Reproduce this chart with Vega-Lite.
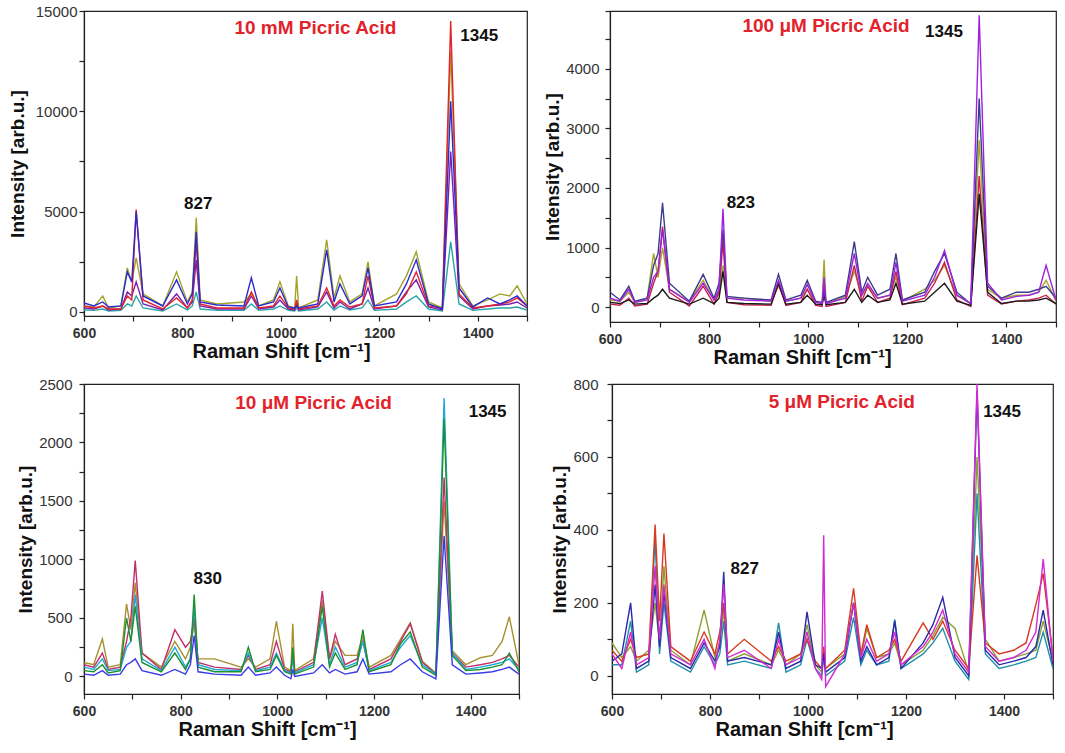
{
"$schema":"https://vega.github.io/schema/vega-lite/v6.json",
"padding":{"left":7,"top":3,"right":5,"bottom":5},
"background":"white",
"config":{
 "font":"Liberation Sans",
 "view":{"stroke":"#222","strokeWidth":1.2},
 "axis":{"domainColor":"#222","domainWidth":1.2,"tickColor":"#222","tickWidth":1.2,"tickSize":5,"labelColor":"#333","labelFont":"Liberation Sans","labelFontSize":15,"titleFont":"Liberation Sans","titleFontSize":20,"titleFontWeight":"bold","titleColor":"#111","grid":false,"labelFlush":false,"labelOverlap":false,"format":"d"},
 "axisX":{"labelFontSize":14,"labelFontWeight":"bold","labelPadding":5,"titlePadding":1,"titleX":192},
 "axisY":{"titleFontSize":19},
 "text":{"font":"Liberation Sans"}
},
"datasets":{
"ann":[
{"p":1,"k":"t","t":"10 mM Picric Acid","x":1070,"y":14150},
{"p":1,"k":"n","t":"1345","x":1403,"y":13750},
{"p":1,"k":"n","t":"827","x":832,"y":5390},
{"p":2,"k":"t","t":"100 μM Picric Acid","x":1036,"y":4720},
{"p":2,"k":"n","t":"1345","x":1274,"y":4620},
{"p":2,"k":"n","t":"823","x":864,"y":1740},
{"p":3,"k":"t","t":"10 μM Picric Acid","x":1075,"y":2338},
{"p":3,"k":"n","t":"1345","x":1435,"y":2261},
{"p":3,"k":"n","t":"830","x":856,"y":836},
{"p":4,"k":"t","t":"5 μM Picric Acid","x":1069,"y":751},
{"p":4,"k":"n","t":"1345","x":1396,"y":724},
{"p":4,"k":"n","t":"827","x":871,"y":292}
],
"p1":[
{"s":"1a","x":600,"y":100},{"s":"1a","x":620,"y":80},{"s":"1a","x":638,"y":150},{"s":"1a","x":650,"y":50},{"s":"1a","x":675,"y":80},{"s":"1a","x":688,"y":400},{"s":"1a","x":697,"y":300},{"s":"1a","x":706,"y":800},{"s":"1a","x":720,"y":200},{"s":"1a","x":760,"y":50},{"s":"1a","x":788,"y":400},{"s":"1a","x":810,"y":100},{"s":"1a","x":820,"y":300},{"s":"1a","x":828,"y":1000},{"s":"1a","x":836,"y":150},{"s":"1a","x":870,"y":80},{"s":"1a","x":925,"y":80},{"s":"1a","x":940,"y":400},{"s":"1a","x":955,"y":80},{"s":"1a","x":985,"y":150},{"s":"1a","x":998,"y":300},{"s":"1a","x":1015,"y":80},{"s":"1a","x":1028,"y":50},{"s":"1a","x":1032,"y":200},{"s":"1a","x":1036,"y":50},{"s":"1a","x":1075,"y":150},{"s":"1a","x":1093,"y":500},{"s":"1a","x":1108,"y":100},{"s":"1a","x":1120,"y":300},{"s":"1a","x":1140,"y":100},{"s":"1a","x":1165,"y":200},{"s":"1a","x":1177,"y":600},{"s":"1a","x":1190,"y":80},{"s":"1a","x":1235,"y":150},{"s":"1a","x":1255,"y":500},{"s":"1a","x":1275,"y":800},{"s":"1a","x":1300,"y":150},{"s":"1a","x":1328,"y":50},{"s":"1a","x":1345,"y":3500},{"s":"1a","x":1362,"y":400},{"s":"1a","x":1390,"y":80},{"s":"1a","x":1420,"y":150},{"s":"1a","x":1445,"y":200},{"s":"1a","x":1465,"y":200},{"s":"1a","x":1480,"y":250},{"s":"1a","x":1500,"y":100},
{"s":"1b","x":600,"y":200},{"s":"1b","x":620,"y":150},{"s":"1b","x":638,"y":300},{"s":"1b","x":650,"y":100},{"s":"1b","x":675,"y":150},{"s":"1b","x":688,"y":1000},{"s":"1b","x":697,"y":800},{"s":"1b","x":706,"y":1500},{"s":"1b","x":720,"y":400},{"s":"1b","x":760,"y":100},{"s":"1b","x":788,"y":900},{"s":"1b","x":810,"y":200},{"s":"1b","x":820,"y":500},{"s":"1b","x":828,"y":2600},{"s":"1b","x":836,"y":300},{"s":"1b","x":870,"y":150},{"s":"1b","x":925,"y":150},{"s":"1b","x":940,"y":800},{"s":"1b","x":955,"y":150},{"s":"1b","x":985,"y":250},{"s":"1b","x":998,"y":600},{"s":"1b","x":1015,"y":150},{"s":"1b","x":1028,"y":100},{"s":"1b","x":1032,"y":400},{"s":"1b","x":1036,"y":100},{"s":"1b","x":1075,"y":250},{"s":"1b","x":1093,"y":1000},{"s":"1b","x":1108,"y":200},{"s":"1b","x":1120,"y":500},{"s":"1b","x":1140,"y":150},{"s":"1b","x":1165,"y":400},{"s":"1b","x":1177,"y":1200},{"s":"1b","x":1190,"y":150},{"s":"1b","x":1235,"y":300},{"s":"1b","x":1255,"y":1000},{"s":"1b","x":1275,"y":1600},{"s":"1b","x":1300,"y":250},{"s":"1b","x":1328,"y":100},{"s":"1b","x":1345,"y":8000},{"s":"1b","x":1362,"y":800},{"s":"1b","x":1390,"y":150},{"s":"1b","x":1420,"y":300},{"s":"1b","x":1445,"y":350},{"s":"1b","x":1465,"y":400},{"s":"1b","x":1480,"y":500},{"s":"1b","x":1500,"y":200},
{"s":"1c","x":600,"y":300},{"s":"1c","x":620,"y":250},{"s":"1c","x":638,"y":800},{"s":"1c","x":650,"y":200},{"s":"1c","x":675,"y":300},{"s":"1c","x":688,"y":2200},{"s":"1c","x":697,"y":1500},{"s":"1c","x":706,"y":2700},{"s":"1c","x":720,"y":900},{"s":"1c","x":760,"y":300},{"s":"1c","x":788,"y":2000},{"s":"1c","x":810,"y":500},{"s":"1c","x":820,"y":1000},{"s":"1c","x":828,"y":4700},{"s":"1c","x":836,"y":600},{"s":"1c","x":870,"y":400},{"s":"1c","x":925,"y":500},{"s":"1c","x":940,"y":900},{"s":"1c","x":955,"y":300},{"s":"1c","x":985,"y":600},{"s":"1c","x":998,"y":1500},{"s":"1c","x":1015,"y":300},{"s":"1c","x":1028,"y":200},{"s":"1c","x":1032,"y":1800},{"s":"1c","x":1036,"y":200},{"s":"1c","x":1075,"y":600},{"s":"1c","x":1093,"y":3600},{"s":"1c","x":1108,"y":700},{"s":"1c","x":1120,"y":1800},{"s":"1c","x":1140,"y":500},{"s":"1c","x":1165,"y":900},{"s":"1c","x":1177,"y":2500},{"s":"1c","x":1190,"y":300},{"s":"1c","x":1235,"y":900},{"s":"1c","x":1255,"y":1800},{"s":"1c","x":1275,"y":3000},{"s":"1c","x":1300,"y":500},{"s":"1c","x":1328,"y":200},{"s":"1c","x":1345,"y":13000},{"s":"1c","x":1362,"y":1400},{"s":"1c","x":1390,"y":300},{"s":"1c","x":1420,"y":600},{"s":"1c","x":1445,"y":900},{"s":"1c","x":1465,"y":800},{"s":"1c","x":1480,"y":1300},{"s":"1c","x":1500,"y":400},
{"s":"1d","x":600,"y":300},{"s":"1d","x":620,"y":200},{"s":"1d","x":638,"y":300},{"s":"1d","x":650,"y":150},{"s":"1d","x":675,"y":150},{"s":"1d","x":688,"y":800},{"s":"1d","x":697,"y":600},{"s":"1d","x":706,"y":5100},{"s":"1d","x":720,"y":600},{"s":"1d","x":760,"y":150},{"s":"1d","x":788,"y":700},{"s":"1d","x":810,"y":200},{"s":"1d","x":820,"y":600},{"s":"1d","x":828,"y":3500},{"s":"1d","x":836,"y":400},{"s":"1d","x":870,"y":200},{"s":"1d","x":925,"y":200},{"s":"1d","x":940,"y":1000},{"s":"1d","x":955,"y":200},{"s":"1d","x":985,"y":300},{"s":"1d","x":998,"y":800},{"s":"1d","x":1015,"y":200},{"s":"1d","x":1028,"y":150},{"s":"1d","x":1032,"y":600},{"s":"1d","x":1036,"y":150},{"s":"1d","x":1075,"y":300},{"s":"1d","x":1093,"y":1200},{"s":"1d","x":1108,"y":300},{"s":"1d","x":1120,"y":600},{"s":"1d","x":1140,"y":250},{"s":"1d","x":1165,"y":400},{"s":"1d","x":1177,"y":1800},{"s":"1d","x":1190,"y":200},{"s":"1d","x":1235,"y":300},{"s":"1d","x":1255,"y":900},{"s":"1d","x":1275,"y":2000},{"s":"1d","x":1300,"y":300},{"s":"1d","x":1328,"y":200},{"s":"1d","x":1345,"y":14500},{"s":"1d","x":1362,"y":900},{"s":"1d","x":1390,"y":200},{"s":"1d","x":1420,"y":300},{"s":"1d","x":1445,"y":400},{"s":"1d","x":1465,"y":500},{"s":"1d","x":1480,"y":700},{"s":"1d","x":1500,"y":300},
{"s":"1e","x":600,"y":450},{"s":"1e","x":620,"y":300},{"s":"1e","x":638,"y":500},{"s":"1e","x":650,"y":250},{"s":"1e","x":675,"y":300},{"s":"1e","x":688,"y":2000},{"s":"1e","x":697,"y":1500},{"s":"1e","x":706,"y":5000},{"s":"1e","x":720,"y":800},{"s":"1e","x":760,"y":300},{"s":"1e","x":788,"y":1600},{"s":"1e","x":810,"y":400},{"s":"1e","x":820,"y":900},{"s":"1e","x":828,"y":4000},{"s":"1e","x":836,"y":500},{"s":"1e","x":870,"y":350},{"s":"1e","x":925,"y":300},{"s":"1e","x":940,"y":1700},{"s":"1e","x":955,"y":300},{"s":"1e","x":985,"y":500},{"s":"1e","x":998,"y":1200},{"s":"1e","x":1015,"y":250},{"s":"1e","x":1028,"y":200},{"s":"1e","x":1032,"y":300},{"s":"1e","x":1036,"y":200},{"s":"1e","x":1075,"y":400},{"s":"1e","x":1093,"y":3100},{"s":"1e","x":1108,"y":500},{"s":"1e","x":1120,"y":1400},{"s":"1e","x":1140,"y":400},{"s":"1e","x":1165,"y":800},{"s":"1e","x":1177,"y":2200},{"s":"1e","x":1190,"y":300},{"s":"1e","x":1235,"y":500},{"s":"1e","x":1255,"y":1400},{"s":"1e","x":1275,"y":2600},{"s":"1e","x":1300,"y":400},{"s":"1e","x":1328,"y":150},{"s":"1e","x":1345,"y":10500},{"s":"1e","x":1362,"y":1200},{"s":"1e","x":1390,"y":250},{"s":"1e","x":1420,"y":700},{"s":"1e","x":1445,"y":400},{"s":"1e","x":1465,"y":600},{"s":"1e","x":1480,"y":800},{"s":"1e","x":1500,"y":300}
],
"p2":[
{"s":"2a","x":600,"y":120},{"s":"2a","x":620,"y":100},{"s":"2a","x":638,"y":250},{"s":"2a","x":650,"y":80},{"s":"2a","x":675,"y":150},{"s":"2a","x":688,"y":900},{"s":"2a","x":697,"y":500},{"s":"2a","x":706,"y":1000},{"s":"2a","x":720,"y":300},{"s":"2a","x":760,"y":100},{"s":"2a","x":788,"y":450},{"s":"2a","x":810,"y":120},{"s":"2a","x":820,"y":250},{"s":"2a","x":828,"y":700},{"s":"2a","x":836,"y":150},{"s":"2a","x":870,"y":150},{"s":"2a","x":925,"y":100},{"s":"2a","x":940,"y":350},{"s":"2a","x":955,"y":100},{"s":"2a","x":985,"y":150},{"s":"2a","x":998,"y":300},{"s":"2a","x":1015,"y":80},{"s":"2a","x":1028,"y":60},{"s":"2a","x":1032,"y":800},{"s":"2a","x":1036,"y":60},{"s":"2a","x":1075,"y":180},{"s":"2a","x":1093,"y":600},{"s":"2a","x":1108,"y":200},{"s":"2a","x":1120,"y":350},{"s":"2a","x":1140,"y":150},{"s":"2a","x":1165,"y":200},{"s":"2a","x":1177,"y":500},{"s":"2a","x":1190,"y":100},{"s":"2a","x":1235,"y":300},{"s":"2a","x":1255,"y":450},{"s":"2a","x":1275,"y":700},{"s":"2a","x":1300,"y":200},{"s":"2a","x":1328,"y":60},{"s":"2a","x":1345,"y":2800},{"s":"2a","x":1362,"y":300},{"s":"2a","x":1390,"y":150},{"s":"2a","x":1420,"y":200},{"s":"2a","x":1445,"y":200},{"s":"2a","x":1465,"y":250},{"s":"2a","x":1480,"y":450},{"s":"2a","x":1500,"y":100},
{"s":"2b","x":600,"y":50},{"s":"2b","x":620,"y":30},{"s":"2b","x":638,"y":150},{"s":"2b","x":650,"y":20},{"s":"2b","x":675,"y":50},{"s":"2b","x":688,"y":400},{"s":"2b","x":697,"y":600},{"s":"2b","x":706,"y":1350},{"s":"2b","x":720,"y":250},{"s":"2b","x":760,"y":20},{"s":"2b","x":788,"y":350},{"s":"2b","x":810,"y":50},{"s":"2b","x":820,"y":250},{"s":"2b","x":828,"y":1100},{"s":"2b","x":836,"y":80},{"s":"2b","x":870,"y":40},{"s":"2b","x":925,"y":30},{"s":"2b","x":940,"y":400},{"s":"2b","x":955,"y":30},{"s":"2b","x":985,"y":80},{"s":"2b","x":998,"y":300},{"s":"2b","x":1015,"y":30},{"s":"2b","x":1028,"y":10},{"s":"2b","x":1032,"y":400},{"s":"2b","x":1036,"y":10},{"s":"2b","x":1075,"y":80},{"s":"2b","x":1093,"y":700},{"s":"2b","x":1108,"y":100},{"s":"2b","x":1120,"y":350},{"s":"2b","x":1140,"y":80},{"s":"2b","x":1165,"y":150},{"s":"2b","x":1177,"y":600},{"s":"2b","x":1190,"y":40},{"s":"2b","x":1235,"y":150},{"s":"2b","x":1255,"y":400},{"s":"2b","x":1275,"y":750},{"s":"2b","x":1300,"y":120},{"s":"2b","x":1328,"y":10},{"s":"2b","x":1345,"y":2200},{"s":"2b","x":1362,"y":200},{"s":"2b","x":1390,"y":50},{"s":"2b","x":1420,"y":100},{"s":"2b","x":1445,"y":120},{"s":"2b","x":1465,"y":150},{"s":"2b","x":1480,"y":200},{"s":"2b","x":1500,"y":50},
{"s":"2c","x":600,"y":80},{"s":"2c","x":620,"y":60},{"s":"2c","x":638,"y":120},{"s":"2c","x":650,"y":50},{"s":"2c","x":675,"y":60},{"s":"2c","x":688,"y":150},{"s":"2c","x":697,"y":200},{"s":"2c","x":706,"y":300},{"s":"2c","x":720,"y":150},{"s":"2c","x":760,"y":50},{"s":"2c","x":788,"y":150},{"s":"2c","x":810,"y":60},{"s":"2c","x":820,"y":150},{"s":"2c","x":828,"y":600},{"s":"2c","x":836,"y":80},{"s":"2c","x":870,"y":60},{"s":"2c","x":925,"y":50},{"s":"2c","x":940,"y":400},{"s":"2c","x":955,"y":50},{"s":"2c","x":985,"y":80},{"s":"2c","x":998,"y":200},{"s":"2c","x":1015,"y":50},{"s":"2c","x":1028,"y":40},{"s":"2c","x":1032,"y":200},{"s":"2c","x":1036,"y":40},{"s":"2c","x":1075,"y":80},{"s":"2c","x":1093,"y":300},{"s":"2c","x":1108,"y":80},{"s":"2c","x":1120,"y":200},{"s":"2c","x":1140,"y":80},{"s":"2c","x":1165,"y":120},{"s":"2c","x":1177,"y":400},{"s":"2c","x":1190,"y":50},{"s":"2c","x":1235,"y":100},{"s":"2c","x":1255,"y":250},{"s":"2c","x":1275,"y":400},{"s":"2c","x":1300,"y":100},{"s":"2c","x":1328,"y":30},{"s":"2c","x":1345,"y":1900},{"s":"2c","x":1362,"y":250},{"s":"2c","x":1390,"y":60},{"s":"2c","x":1420,"y":100},{"s":"2c","x":1445,"y":100},{"s":"2c","x":1465,"y":120},{"s":"2c","x":1480,"y":150},{"s":"2c","x":1500,"y":60},
{"s":"2d","x":600,"y":250},{"s":"2d","x":620,"y":120},{"s":"2d","x":638,"y":350},{"s":"2d","x":650,"y":100},{"s":"2d","x":675,"y":150},{"s":"2d","x":688,"y":700},{"s":"2d","x":697,"y":900},{"s":"2d","x":706,"y":1750},{"s":"2d","x":720,"y":400},{"s":"2d","x":760,"y":100},{"s":"2d","x":788,"y":550},{"s":"2d","x":810,"y":150},{"s":"2d","x":820,"y":400},{"s":"2d","x":828,"y":1300},{"s":"2d","x":836,"y":180},{"s":"2d","x":870,"y":150},{"s":"2d","x":925,"y":120},{"s":"2d","x":940,"y":550},{"s":"2d","x":955,"y":120},{"s":"2d","x":985,"y":200},{"s":"2d","x":998,"y":450},{"s":"2d","x":1015,"y":100},{"s":"2d","x":1028,"y":80},{"s":"2d","x":1032,"y":300},{"s":"2d","x":1036,"y":80},{"s":"2d","x":1075,"y":200},{"s":"2d","x":1093,"y":1100},{"s":"2d","x":1108,"y":250},{"s":"2d","x":1120,"y":500},{"s":"2d","x":1140,"y":200},{"s":"2d","x":1165,"y":300},{"s":"2d","x":1177,"y":900},{"s":"2d","x":1190,"y":120},{"s":"2d","x":1235,"y":250},{"s":"2d","x":1255,"y":600},{"s":"2d","x":1275,"y":900},{"s":"2d","x":1300,"y":250},{"s":"2d","x":1328,"y":50},{"s":"2d","x":1345,"y":3500},{"s":"2d","x":1362,"y":350},{"s":"2d","x":1390,"y":150},{"s":"2d","x":1420,"y":250},{"s":"2d","x":1445,"y":250},{"s":"2d","x":1465,"y":300},{"s":"2d","x":1480,"y":350},{"s":"2d","x":1500,"y":150},
{"s":"2e","x":600,"y":150},{"s":"2e","x":620,"y":100},{"s":"2e","x":638,"y":300},{"s":"2e","x":650,"y":80},{"s":"2e","x":675,"y":120},{"s":"2e","x":688,"y":500},{"s":"2e","x":697,"y":600},{"s":"2e","x":706,"y":1300},{"s":"2e","x":720,"y":300},{"s":"2e","x":760,"y":80},{"s":"2e","x":788,"y":400},{"s":"2e","x":810,"y":120},{"s":"2e","x":820,"y":300},{"s":"2e","x":828,"y":1650},{"s":"2e","x":836,"y":150},{"s":"2e","x":870,"y":120},{"s":"2e","x":925,"y":100},{"s":"2e","x":940,"y":450},{"s":"2e","x":955,"y":100},{"s":"2e","x":985,"y":150},{"s":"2e","x":998,"y":380},{"s":"2e","x":1015,"y":80},{"s":"2e","x":1028,"y":60},{"s":"2e","x":1032,"y":500},{"s":"2e","x":1036,"y":60},{"s":"2e","x":1075,"y":150},{"s":"2e","x":1093,"y":900},{"s":"2e","x":1108,"y":200},{"s":"2e","x":1120,"y":400},{"s":"2e","x":1140,"y":150},{"s":"2e","x":1165,"y":200},{"s":"2e","x":1177,"y":750},{"s":"2e","x":1190,"y":100},{"s":"2e","x":1235,"y":200},{"s":"2e","x":1255,"y":500},{"s":"2e","x":1275,"y":950},{"s":"2e","x":1300,"y":200},{"s":"2e","x":1328,"y":60},{"s":"2e","x":1345,"y":4900},{"s":"2e","x":1362,"y":400},{"s":"2e","x":1390,"y":120},{"s":"2e","x":1420,"y":180},{"s":"2e","x":1445,"y":200},{"s":"2e","x":1465,"y":250},{"s":"2e","x":1480,"y":700},{"s":"2e","x":1500,"y":120}
],
"p3":[
{"s":"3a","x":600,"y":120},{"s":"3a","x":620,"y":100},{"s":"3a","x":638,"y":320},{"s":"3a","x":650,"y":80},{"s":"3a","x":675,"y":100},{"s":"3a","x":688,"y":620},{"s":"3a","x":697,"y":400},{"s":"3a","x":706,"y":800},{"s":"3a","x":720,"y":200},{"s":"3a","x":760,"y":80},{"s":"3a","x":788,"y":300},{"s":"3a","x":810,"y":150},{"s":"3a","x":820,"y":250},{"s":"3a","x":828,"y":450},{"s":"3a","x":836,"y":150},{"s":"3a","x":870,"y":150},{"s":"3a","x":925,"y":80},{"s":"3a","x":940,"y":150},{"s":"3a","x":955,"y":80},{"s":"3a","x":985,"y":150},{"s":"3a","x":998,"y":470},{"s":"3a","x":1015,"y":80},{"s":"3a","x":1028,"y":50},{"s":"3a","x":1032,"y":450},{"s":"3a","x":1036,"y":50},{"s":"3a","x":1075,"y":150},{"s":"3a","x":1093,"y":650},{"s":"3a","x":1108,"y":150},{"s":"3a","x":1120,"y":300},{"s":"3a","x":1140,"y":180},{"s":"3a","x":1165,"y":180},{"s":"3a","x":1177,"y":350},{"s":"3a","x":1190,"y":80},{"s":"3a","x":1235,"y":180},{"s":"3a","x":1255,"y":320},{"s":"3a","x":1275,"y":460},{"s":"3a","x":1300,"y":130},{"s":"3a","x":1328,"y":30},{"s":"3a","x":1345,"y":1500},{"s":"3a","x":1362,"y":220},{"s":"3a","x":1390,"y":100},{"s":"3a","x":1420,"y":160},{"s":"3a","x":1445,"y":180},{"s":"3a","x":1465,"y":300},{"s":"3a","x":1480,"y":510},{"s":"3a","x":1500,"y":100},
{"s":"3b","x":600,"y":100},{"s":"3b","x":620,"y":80},{"s":"3b","x":638,"y":200},{"s":"3b","x":650,"y":60},{"s":"3b","x":675,"y":80},{"s":"3b","x":688,"y":300},{"s":"3b","x":697,"y":500},{"s":"3b","x":706,"y":990},{"s":"3b","x":720,"y":200},{"s":"3b","x":760,"y":60},{"s":"3b","x":788,"y":400},{"s":"3b","x":810,"y":250},{"s":"3b","x":820,"y":300},{"s":"3b","x":828,"y":500},{"s":"3b","x":836,"y":120},{"s":"3b","x":870,"y":80},{"s":"3b","x":925,"y":60},{"s":"3b","x":940,"y":180},{"s":"3b","x":955,"y":60},{"s":"3b","x":985,"y":100},{"s":"3b","x":998,"y":300},{"s":"3b","x":1015,"y":60},{"s":"3b","x":1028,"y":40},{"s":"3b","x":1032,"y":200},{"s":"3b","x":1036,"y":40},{"s":"3b","x":1075,"y":120},{"s":"3b","x":1093,"y":730},{"s":"3b","x":1108,"y":150},{"s":"3b","x":1120,"y":360},{"s":"3b","x":1140,"y":100},{"s":"3b","x":1165,"y":150},{"s":"3b","x":1177,"y":300},{"s":"3b","x":1190,"y":60},{"s":"3b","x":1235,"y":150},{"s":"3b","x":1255,"y":300},{"s":"3b","x":1275,"y":450},{"s":"3b","x":1300,"y":120},{"s":"3b","x":1328,"y":20},{"s":"3b","x":1345,"y":1700},{"s":"3b","x":1362,"y":200},{"s":"3b","x":1390,"y":80},{"s":"3b","x":1420,"y":100},{"s":"3b","x":1445,"y":120},{"s":"3b","x":1465,"y":150},{"s":"3b","x":1480,"y":180},{"s":"3b","x":1500,"y":80},
{"s":"3c","x":600,"y":80},{"s":"3c","x":620,"y":60},{"s":"3c","x":638,"y":150},{"s":"3c","x":650,"y":50},{"s":"3c","x":675,"y":60},{"s":"3c","x":688,"y":250},{"s":"3c","x":697,"y":300},{"s":"3c","x":706,"y":700},{"s":"3c","x":720,"y":150},{"s":"3c","x":760,"y":50},{"s":"3c","x":788,"y":250},{"s":"3c","x":810,"y":80},{"s":"3c","x":820,"y":150},{"s":"3c","x":828,"y":600},{"s":"3c","x":836,"y":100},{"s":"3c","x":870,"y":60},{"s":"3c","x":925,"y":50},{"s":"3c","x":940,"y":200},{"s":"3c","x":955,"y":50},{"s":"3c","x":985,"y":80},{"s":"3c","x":998,"y":200},{"s":"3c","x":1015,"y":50},{"s":"3c","x":1028,"y":30},{"s":"3c","x":1032,"y":150},{"s":"3c","x":1036,"y":30},{"s":"3c","x":1075,"y":100},{"s":"3c","x":1093,"y":500},{"s":"3c","x":1108,"y":100},{"s":"3c","x":1120,"y":250},{"s":"3c","x":1140,"y":80},{"s":"3c","x":1165,"y":120},{"s":"3c","x":1177,"y":300},{"s":"3c","x":1190,"y":50},{"s":"3c","x":1235,"y":120},{"s":"3c","x":1255,"y":250},{"s":"3c","x":1275,"y":350},{"s":"3c","x":1300,"y":100},{"s":"3c","x":1328,"y":20},{"s":"3c","x":1345,"y":2380},{"s":"3c","x":1362,"y":200},{"s":"3c","x":1390,"y":60},{"s":"3c","x":1420,"y":80},{"s":"3c","x":1445,"y":100},{"s":"3c","x":1465,"y":120},{"s":"3c","x":1480,"y":150},{"s":"3c","x":1500,"y":60},
{"s":"3d","x":600,"y":50},{"s":"3d","x":620,"y":40},{"s":"3d","x":638,"y":100},{"s":"3d","x":650,"y":30},{"s":"3d","x":675,"y":50},{"s":"3d","x":688,"y":500},{"s":"3d","x":697,"y":300},{"s":"3d","x":706,"y":600},{"s":"3d","x":720,"y":120},{"s":"3d","x":760,"y":40},{"s":"3d","x":788,"y":200},{"s":"3d","x":810,"y":60},{"s":"3d","x":820,"y":150},{"s":"3d","x":828,"y":700},{"s":"3d","x":836,"y":80},{"s":"3d","x":870,"y":40},{"s":"3d","x":925,"y":40},{"s":"3d","x":940,"y":250},{"s":"3d","x":955,"y":40},{"s":"3d","x":985,"y":60},{"s":"3d","x":998,"y":180},{"s":"3d","x":1015,"y":40},{"s":"3d","x":1028,"y":20},{"s":"3d","x":1032,"y":250},{"s":"3d","x":1036,"y":20},{"s":"3d","x":1075,"y":80},{"s":"3d","x":1093,"y":600},{"s":"3d","x":1108,"y":80},{"s":"3d","x":1120,"y":200},{"s":"3d","x":1140,"y":60},{"s":"3d","x":1165,"y":100},{"s":"3d","x":1177,"y":400},{"s":"3d","x":1190,"y":40},{"s":"3d","x":1235,"y":100},{"s":"3d","x":1255,"y":280},{"s":"3d","x":1275,"y":380},{"s":"3d","x":1300,"y":80},{"s":"3d","x":1328,"y":10},{"s":"3d","x":1345,"y":2200},{"s":"3d","x":1362,"y":180},{"s":"3d","x":1390,"y":50},{"s":"3d","x":1420,"y":60},{"s":"3d","x":1445,"y":80},{"s":"3d","x":1465,"y":100},{"s":"3d","x":1480,"y":200},{"s":"3d","x":1500,"y":40},
{"s":"3e","x":600,"y":20},{"s":"3e","x":620,"y":10},{"s":"3e","x":638,"y":50},{"s":"3e","x":650,"y":10},{"s":"3e","x":675,"y":20},{"s":"3e","x":688,"y":100},{"s":"3e","x":697,"y":120},{"s":"3e","x":706,"y":150},{"s":"3e","x":720,"y":50},{"s":"3e","x":760,"y":10},{"s":"3e","x":788,"y":60},{"s":"3e","x":810,"y":20},{"s":"3e","x":820,"y":100},{"s":"3e","x":828,"y":350},{"s":"3e","x":836,"y":40},{"s":"3e","x":870,"y":20},{"s":"3e","x":925,"y":10},{"s":"3e","x":940,"y":80},{"s":"3e","x":955,"y":10},{"s":"3e","x":985,"y":30},{"s":"3e","x":998,"y":80},{"s":"3e","x":1015,"y":10},{"s":"3e","x":1028,"y":-20},{"s":"3e","x":1032,"y":60},{"s":"3e","x":1036,"y":0},{"s":"3e","x":1075,"y":30},{"s":"3e","x":1093,"y":100},{"s":"3e","x":1108,"y":30},{"s":"3e","x":1120,"y":60},{"s":"3e","x":1140,"y":20},{"s":"3e","x":1165,"y":40},{"s":"3e","x":1177,"y":150},{"s":"3e","x":1190,"y":20},{"s":"3e","x":1235,"y":40},{"s":"3e","x":1255,"y":100},{"s":"3e","x":1275,"y":150},{"s":"3e","x":1300,"y":40},{"s":"3e","x":1328,"y":-20},{"s":"3e","x":1345,"y":1200},{"s":"3e","x":1362,"y":100},{"s":"3e","x":1390,"y":20},{"s":"3e","x":1420,"y":30},{"s":"3e","x":1445,"y":40},{"s":"3e","x":1465,"y":60},{"s":"3e","x":1480,"y":80},{"s":"3e","x":1500,"y":20}
],
"p4":[
{"s":"4a","x":600,"y":90},{"s":"4a","x":620,"y":50},{"s":"4a","x":638,"y":80},{"s":"4a","x":650,"y":40},{"s":"4a","x":675,"y":70},{"s":"4a","x":688,"y":200},{"s":"4a","x":697,"y":90},{"s":"4a","x":706,"y":300},{"s":"4a","x":720,"y":70},{"s":"4a","x":760,"y":30},{"s":"4a","x":788,"y":180},{"s":"4a","x":810,"y":50},{"s":"4a","x":820,"y":90},{"s":"4a","x":828,"y":180},{"s":"4a","x":836,"y":40},{"s":"4a","x":870,"y":60},{"s":"4a","x":925,"y":30},{"s":"4a","x":940,"y":70},{"s":"4a","x":955,"y":30},{"s":"4a","x":985,"y":60},{"s":"4a","x":998,"y":140},{"s":"4a","x":1015,"y":30},{"s":"4a","x":1028,"y":10},{"s":"4a","x":1032,"y":70},{"s":"4a","x":1036,"y":20},{"s":"4a","x":1075,"y":60},{"s":"4a","x":1093,"y":200},{"s":"4a","x":1108,"y":50},{"s":"4a","x":1120,"y":130},{"s":"4a","x":1140,"y":50},{"s":"4a","x":1165,"y":60},{"s":"4a","x":1177,"y":90},{"s":"4a","x":1190,"y":30},{"s":"4a","x":1235,"y":70},{"s":"4a","x":1255,"y":110},{"s":"4a","x":1275,"y":160},{"s":"4a","x":1300,"y":130},{"s":"4a","x":1328,"y":10},{"s":"4a","x":1345,"y":600},{"s":"4a","x":1362,"y":100},{"s":"4a","x":1390,"y":40},{"s":"4a","x":1420,"y":50},{"s":"4a","x":1445,"y":60},{"s":"4a","x":1465,"y":70},{"s":"4a","x":1480,"y":150},{"s":"4a","x":1500,"y":40},
{"s":"4b","x":600,"y":30},{"s":"4b","x":620,"y":30},{"s":"4b","x":638,"y":150},{"s":"4b","x":650,"y":10},{"s":"4b","x":675,"y":30},{"s":"4b","x":688,"y":380},{"s":"4b","x":697,"y":60},{"s":"4b","x":706,"y":200},{"s":"4b","x":720,"y":40},{"s":"4b","x":760,"y":10},{"s":"4b","x":788,"y":80},{"s":"4b","x":810,"y":30},{"s":"4b","x":820,"y":60},{"s":"4b","x":828,"y":150},{"s":"4b","x":836,"y":30},{"s":"4b","x":870,"y":40},{"s":"4b","x":925,"y":20},{"s":"4b","x":940,"y":145},{"s":"4b","x":955,"y":10},{"s":"4b","x":985,"y":30},{"s":"4b","x":998,"y":100},{"s":"4b","x":1015,"y":20},{"s":"4b","x":1028,"y":0},{"s":"4b","x":1032,"y":50},{"s":"4b","x":1036,"y":0},{"s":"4b","x":1075,"y":40},{"s":"4b","x":1093,"y":160},{"s":"4b","x":1108,"y":30},{"s":"4b","x":1120,"y":70},{"s":"4b","x":1140,"y":30},{"s":"4b","x":1165,"y":40},{"s":"4b","x":1177,"y":155},{"s":"4b","x":1190,"y":20},{"s":"4b","x":1235,"y":60},{"s":"4b","x":1255,"y":90},{"s":"4b","x":1275,"y":130},{"s":"4b","x":1300,"y":40},{"s":"4b","x":1328,"y":-10},{"s":"4b","x":1345,"y":500},{"s":"4b","x":1362,"y":60},{"s":"4b","x":1390,"y":20},{"s":"4b","x":1420,"y":30},{"s":"4b","x":1445,"y":40},{"s":"4b","x":1465,"y":50},{"s":"4b","x":1480,"y":120},{"s":"4b","x":1500,"y":20},
{"s":"4c","x":600,"y":70},{"s":"4c","x":620,"y":40},{"s":"4c","x":638,"y":100},{"s":"4c","x":650,"y":50},{"s":"4c","x":675,"y":60},{"s":"4c","x":688,"y":415},{"s":"4c","x":697,"y":150},{"s":"4c","x":706,"y":390},{"s":"4c","x":720,"y":80},{"s":"4c","x":760,"y":40},{"s":"4c","x":788,"y":120},{"s":"4c","x":810,"y":60},{"s":"4c","x":820,"y":120},{"s":"4c","x":828,"y":200},{"s":"4c","x":836,"y":60},{"s":"4c","x":870,"y":100},{"s":"4c","x":925,"y":40},{"s":"4c","x":940,"y":80},{"s":"4c","x":955,"y":40},{"s":"4c","x":985,"y":60},{"s":"4c","x":998,"y":100},{"s":"4c","x":1015,"y":40},{"s":"4c","x":1028,"y":20},{"s":"4c","x":1032,"y":80},{"s":"4c","x":1036,"y":20},{"s":"4c","x":1075,"y":70},{"s":"4c","x":1093,"y":240},{"s":"4c","x":1108,"y":60},{"s":"4c","x":1120,"y":140},{"s":"4c","x":1140,"y":50},{"s":"4c","x":1165,"y":70},{"s":"4c","x":1177,"y":100},{"s":"4c","x":1190,"y":40},{"s":"4c","x":1235,"y":145},{"s":"4c","x":1255,"y":100},{"s":"4c","x":1275,"y":150},{"s":"4c","x":1300,"y":70},{"s":"4c","x":1328,"y":20},{"s":"4c","x":1345,"y":330},{"s":"4c","x":1362,"y":90},{"s":"4c","x":1390,"y":60},{"s":"4c","x":1420,"y":70},{"s":"4c","x":1445,"y":90},{"s":"4c","x":1465,"y":195},{"s":"4c","x":1480,"y":280},{"s":"4c","x":1500,"y":50},
{"s":"4d","x":600,"y":40},{"s":"4d","x":620,"y":60},{"s":"4d","x":638,"y":200},{"s":"4d","x":650,"y":20},{"s":"4d","x":675,"y":40},{"s":"4d","x":688,"y":250},{"s":"4d","x":697,"y":80},{"s":"4d","x":706,"y":230},{"s":"4d","x":720,"y":50},{"s":"4d","x":760,"y":20},{"s":"4d","x":788,"y":90},{"s":"4d","x":810,"y":40},{"s":"4d","x":820,"y":80},{"s":"4d","x":828,"y":285},{"s":"4d","x":836,"y":40},{"s":"4d","x":870,"y":50},{"s":"4d","x":925,"y":30},{"s":"4d","x":940,"y":120},{"s":"4d","x":955,"y":20},{"s":"4d","x":985,"y":40},{"s":"4d","x":998,"y":175},{"s":"4d","x":1015,"y":30},{"s":"4d","x":1028,"y":20},{"s":"4d","x":1032,"y":60},{"s":"4d","x":1036,"y":10},{"s":"4d","x":1075,"y":50},{"s":"4d","x":1093,"y":200},{"s":"4d","x":1108,"y":40},{"s":"4d","x":1120,"y":80},{"s":"4d","x":1140,"y":30},{"s":"4d","x":1165,"y":50},{"s":"4d","x":1177,"y":150},{"s":"4d","x":1190,"y":20},{"s":"4d","x":1235,"y":90},{"s":"4d","x":1255,"y":140},{"s":"4d","x":1275,"y":215},{"s":"4d","x":1300,"y":50},{"s":"4d","x":1328,"y":0},{"s":"4d","x":1345,"y":780},{"s":"4d","x":1362,"y":70},{"s":"4d","x":1390,"y":30},{"s":"4d","x":1420,"y":40},{"s":"4d","x":1445,"y":50},{"s":"4d","x":1465,"y":80},{"s":"4d","x":1480,"y":180},{"s":"4d","x":1500,"y":30},
{"s":"4e","x":600,"y":60},{"s":"4e","x":620,"y":20},{"s":"4e","x":638,"y":120},{"s":"4e","x":650,"y":30},{"s":"4e","x":675,"y":50},{"s":"4e","x":688,"y":300},{"s":"4e","x":697,"y":100},{"s":"4e","x":706,"y":250},{"s":"4e","x":720,"y":60},{"s":"4e","x":760,"y":30},{"s":"4e","x":788,"y":100},{"s":"4e","x":810,"y":20},{"s":"4e","x":820,"y":100},{"s":"4e","x":828,"y":250},{"s":"4e","x":836,"y":50},{"s":"4e","x":870,"y":70},{"s":"4e","x":925,"y":20},{"s":"4e","x":940,"y":100},{"s":"4e","x":955,"y":30},{"s":"4e","x":985,"y":50},{"s":"4e","x":998,"y":120},{"s":"4e","x":1015,"y":20},{"s":"4e","x":1028,"y":-10},{"s":"4e","x":1032,"y":385},{"s":"4e","x":1036,"y":-30},{"s":"4e","x":1075,"y":60},{"s":"4e","x":1093,"y":200},{"s":"4e","x":1108,"y":50},{"s":"4e","x":1120,"y":100},{"s":"4e","x":1140,"y":40},{"s":"4e","x":1165,"y":60},{"s":"4e","x":1177,"y":120},{"s":"4e","x":1190,"y":30},{"s":"4e","x":1235,"y":80},{"s":"4e","x":1255,"y":120},{"s":"4e","x":1275,"y":180},{"s":"4e","x":1300,"y":60},{"s":"4e","x":1328,"y":10},{"s":"4e","x":1345,"y":800},{"s":"4e","x":1362,"y":80},{"s":"4e","x":1390,"y":40},{"s":"4e","x":1420,"y":50},{"s":"4e","x":1445,"y":70},{"s":"4e","x":1465,"y":120},{"s":"4e","x":1480,"y":320},{"s":"4e","x":1500,"y":40}
]
},
"vconcat":[
{"hconcat":[
{"width":443,"height":305,
 "encoding":{
  "x":{"field":"x","type":"quantitative","scale":{"domain":[600,1500],"nice":false,"zero":false},"axis":{"values":[600,700,800,900,1000,1100,1200,1300,1400,1500],"labelExpr":"datum.value % 200 == 0 ? datum.label : ''","title":"Raman Shift [cm⁻¹]","titleX":197}},
  "y":{"field":"y","type":"quantitative","scale":{"domain":[-200,15000],"nice":false,"zero":false},"axis":{"values":[0,2500,5000,7500,10000,12500,15000],"labelExpr":"datum.value % 5000 == 0 ? datum.label : ''","title":"Intensity [arb.u.]","titlePadding":8,"labelPadding":2}}
 },
 "layer":[
  {"data":{"name":"p1"},"mark":{"type":"line","strokeWidth":1.4,"clip":true},"encoding":{"color":{"field":"s","type":"nominal","legend":null,"scale":{"domain":["1a","1b","1c","1d","1e","2a","2b","2c","2d","2e","3a","3b","3c","3d","3e","4a","4b","4c","4d","4e"],"range":["#2aa5a5","#7b1fb0","#a3a32a","#e3232b","#2b2bd0","#a5a530","#c8204a","#1a1a1a","#3c3c8c","#a020e0","#a89030","#c0306a","#20a8d8","#1c9030","#3a3ae8","#8aa030","#2090a8","#d83a20","#2a2aa8","#d22ad2"]}}}},
  {"data":{"name":"ann"},"transform":[{"filter":"datum.p==1 && datum.k=='t'"}],"mark":{"type":"text","color":"#e3232b","fontSize":19,"fontWeight":"bold"},"encoding":{"text":{"field":"t"}}},
  {"data":{"name":"ann"},"transform":[{"filter":"datum.p==1 && datum.k=='n'"}],"mark":{"type":"text","color":"#111","fontSize":17,"fontWeight":"bold"},"encoding":{"text":{"field":"t"}}}
 ]},
{"width":446,"height":311,
 "encoding":{
  "x":{"field":"x","type":"quantitative","scale":{"domain":[600,1500],"nice":false,"zero":false},"axis":{"values":[600,700,800,900,1000,1100,1200,1300,1400,1500],"labelExpr":"datum.value % 200 == 0 ? datum.label : ''","title":"Raman Shift [cm⁻¹]"}},
  "y":{"field":"y","type":"quantitative","scale":{"domain":[-250,4970],"nice":false,"zero":false},"axis":{"values":[0,500,1000,1500,2000,2500,3000,3500,4000,4500,4970],"labelExpr":"datum.value % 1000 == 0 ? datum.label : ' '","title":"Intensity [arb.u.]","titlePadding":3,"labelPadding":6}}
 },
 "layer":[
  {"data":{"name":"p2"},"mark":{"type":"line","strokeWidth":1.4,"clip":true},"encoding":{"color":{"field":"s","type":"nominal","legend":null,"scale":{"domain":["1a","1b","1c","1d","1e","2a","2b","2c","2d","2e","3a","3b","3c","3d","3e","4a","4b","4c","4d","4e"],"range":["#2aa5a5","#7b1fb0","#a3a32a","#e3232b","#2b2bd0","#a5a530","#c8204a","#1a1a1a","#3c3c8c","#a020e0","#a89030","#c0306a","#20a8d8","#1c9030","#3a3ae8","#8aa030","#2090a8","#d83a20","#2a2aa8","#d22ad2"]}}}},
  {"data":{"name":"ann"},"transform":[{"filter":"datum.p==2 && datum.k=='t'"}],"mark":{"type":"text","color":"#e3232b","fontSize":19,"fontWeight":"bold"},"encoding":{"text":{"field":"t"}}},
  {"data":{"name":"ann"},"transform":[{"filter":"datum.p==2 && datum.k=='n'"}],"mark":{"type":"text","color":"#111","fontSize":17,"fontWeight":"bold"},"encoding":{"text":{"field":"t"}}}
 ]}
],"spacing":14},
{"hconcat":[
{"width":435,"height":310,
 "encoding":{
  "x":{"field":"x","type":"quantitative","scale":{"domain":[600,1500],"nice":false,"zero":false},"axis":{"values":[600,700,800,900,1000,1100,1200,1300,1400,1500],"labelExpr":"datum.value % 200 == 0 ? datum.label : ''","title":"Raman Shift [cm⁻¹]","titleX":183}},
  "y":{"field":"y","type":"quantitative","scale":{"domain":[-150,2500],"nice":false,"zero":false},"axis":{"values":[0,250,500,750,1000,1250,1500,1750,2000,2250,2500],"labelExpr":"datum.value % 500 == 0 ? datum.label : ''","title":"Intensity [arb.u.]","titlePadding":3,"labelPadding":7}}
 },
 "layer":[
  {"data":{"name":"p3"},"mark":{"type":"line","strokeWidth":1.4,"clip":true},"encoding":{"color":{"field":"s","type":"nominal","legend":null,"scale":{"domain":["1a","1b","1c","1d","1e","2a","2b","2c","2d","2e","3a","3b","3c","3d","3e","4a","4b","4c","4d","4e"],"range":["#2aa5a5","#7b1fb0","#a3a32a","#e3232b","#2b2bd0","#a5a530","#c8204a","#1a1a1a","#3c3c8c","#a020e0","#a89030","#c0306a","#20a8d8","#1c9030","#3a3ae8","#8aa030","#2090a8","#d83a20","#2a2aa8","#d22ad2"]}}}},
  {"data":{"name":"ann"},"transform":[{"filter":"datum.p==3 && datum.k=='t'"}],"mark":{"type":"text","color":"#e3232b","fontSize":19,"fontWeight":"bold"},"encoding":{"text":{"field":"t"}}},
  {"data":{"name":"ann"},"transform":[{"filter":"datum.p==3 && datum.k=='n'"}],"mark":{"type":"text","color":"#111","fontSize":17,"fontWeight":"bold"},"encoding":{"text":{"field":"t"}}}
 ]},
{"width":441,"height":310,
 "encoding":{
  "x":{"field":"x","type":"quantitative","scale":{"domain":[600,1500],"nice":false,"zero":false},"axis":{"values":[600,700,800,900,1000,1100,1200,1300,1400,1500],"labelExpr":"datum.value % 200 == 0 ? datum.label : ''","title":"Raman Shift [cm⁻¹]"}},
  "y":{"field":"y","type":"quantitative","scale":{"domain":[-50,800],"nice":false,"zero":false},"axis":{"values":[0,100,200,300,400,500,600,700,800],"labelExpr":"datum.value % 200 == 0 ? datum.label : ''","title":"Intensity [arb.u.]","titlePadding":3,"labelPadding":9}}
 },
 "layer":[
  {"data":{"name":"p4"},"mark":{"type":"line","strokeWidth":1.4,"clip":true},"encoding":{"color":{"field":"s","type":"nominal","legend":null,"scale":{"domain":["1a","1b","1c","1d","1e","2a","2b","2c","2d","2e","3a","3b","3c","3d","3e","4a","4b","4c","4d","4e"],"range":["#2aa5a5","#7b1fb0","#a3a32a","#e3232b","#2b2bd0","#a5a530","#c8204a","#1a1a1a","#3c3c8c","#a020e0","#a89030","#c0306a","#20a8d8","#1c9030","#3a3ae8","#8aa030","#2090a8","#d83a20","#2a2aa8","#d22ad2"]}}}},
  {"data":{"name":"ann"},"transform":[{"filter":"datum.p==4 && datum.k=='t'"}],"mark":{"type":"text","color":"#e3232b","fontSize":19,"fontWeight":"bold"},"encoding":{"text":{"field":"t"}}},
  {"data":{"name":"ann"},"transform":[{"filter":"datum.p==4 && datum.k=='n'"}],"mark":{"type":"text","color":"#111","fontSize":17,"fontWeight":"bold"},"encoding":{"text":{"field":"t"}}}
 ]}
],"spacing":29}
],
"spacing":8
}
